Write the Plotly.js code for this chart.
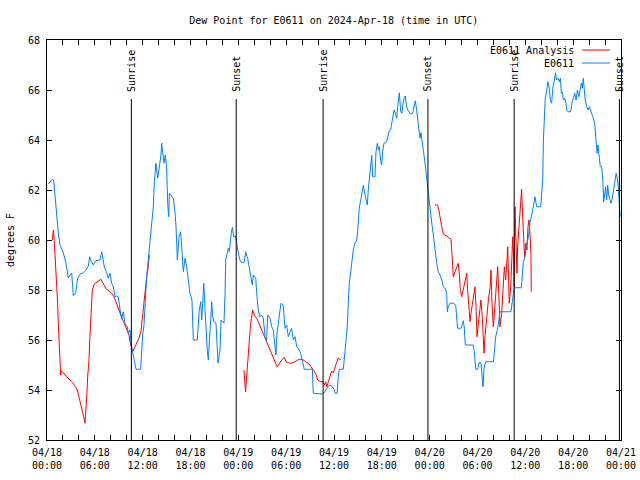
<!DOCTYPE html>
<html>
<head>
<meta charset="utf-8">
<script src="https://cdn.plot.ly/plotly-3.0.1.min.js"></script>
<style>html,body{margin:0;padding:0;background:#fff;}#chart{width:640px;height:480px;}</style>
</head>
<body>
<div id="chart"></div>
<script>
// Time base: 2024-04-18 00:00 UTC; times below are hours since then.
var startDate = "2024-04-18 00:00";

// E0611 observed dew point (blue)
var obsHours = [0.16,0.67,0.84,1.0,1.2,1.42,1.63,2.05,2.38,2.67,2.97,3.1,3.3,3.6,3.85,4.18,4.55,4.85,5.18,5.35,5.52,5.81,6.1,6.65,6.86,7.07,7.19,7.49,7.69,7.9,8.11,8.32,8.53,8.74,8.95,9.16,9.37,9.57,9.78,10.07,10.2,10.41,10.54,10.7,10.95,11.16,11.75,11.83,12.0,12.17,12.3,12.5,12.7,12.92,13.13,13.33,13.46,13.67,13.89,14.09,14.3,14.39,14.51,14.68,14.84,15.0,15.15,15.27,15.35,15.65,15.85,16.06,16.19,16.35,16.56,16.77,16.9,17.1,17.31,17.52,17.73,17.94,18.19,18.27,18.35,18.85,18.98,19.1,19.28,19.4,19.53,19.66,19.78,19.95,20.1,20.24,20.37,20.53,20.66,20.78,20.95,21.2,21.37,21.45,21.58,21.7,21.83,22.05,22.2,22.33,22.41,22.62,22.75,22.87,22.96,23.12,23.25,23.42,23.67,23.8,23.92,24.2,24.42,24.75,24.92,25.17,25.34,25.59,25.75,25.88,26.18,26.34,26.5,26.72,26.93,27.13,27.35,27.55,27.68,27.97,28.18,28.39,28.6,28.72,28.85,29.1,29.35,29.64,29.85,30.06,30.27,30.48,30.69,30.9,31.11,31.32,31.52,31.82,32.07,32.27,33.28,33.4,34.53,34.87,35.2,35.5,35.7,36.0,36.13,36.4,36.54,36.67,37.17,37.34,37.5,37.67,37.8,37.92,38.1,38.22,38.42,38.63,38.85,38.97,39.05,39.17,39.35,39.51,39.68,39.85,40.01,40.18,40.3,40.43,40.6,40.73,40.85,41.14,41.27,41.43,41.56,41.68,41.86,41.98,42.1,42.27,42.6,42.8,42.94,43.1,43.24,43.36,43.53,43.69,43.86,43.98,44.13,44.2,44.37,44.53,44.62,44.78,44.95,45.07,45.25,45.45,45.62,45.87,46.04,46.2,46.37,46.54,46.66,46.79,46.91,47.04,47.2,47.42,47.63,47.8,48.04,48.26,48.46,48.67,48.88,49.09,49.3,49.51,49.72,49.93,50.14,50.21,50.34,50.55,50.97,51.26,51.39,51.5,51.93,52.09,52.23,52.35,52.47,53.47,53.6,53.78,54.03,54.19,54.44,54.6,54.7,54.82,55.03,56.0,56.11,56.28,56.53,56.7,56.82,58.2,58.37,58.5,58.6,59.5,59.6,59.74,59.96,60.08,60.25,60.42,60.59,60.75,60.92,61.09,61.2,61.43,61.93,62.05,62.18,62.27,62.38,62.5,62.68,62.84,63.0,63.14,63.3,63.47,63.65,63.78,63.9,64.1,64.27,64.4,64.52,64.65,64.77,64.94,65.1,65.19,65.35,65.7,65.86,66.03,66.2,66.36,66.53,66.7,66.86,67.03,67.15,67.27,67.4,67.52,67.7,67.86,68.03,68.2,68.36,68.53,68.7,68.87,69.0,69.11,69.24,69.4,69.57,69.7,69.83,69.95,70.07,70.2,70.33,70.45,70.63,70.75,70.91,71.03,71.2,71.4,71.5,71.67,71.79,71.9];
var obsDewF = [62.24,62.43,62.4,61.6,61.08,60.28,59.8,59.48,59.08,58.48,58.6,58.68,57.77,57.89,58.48,58.64,58.69,58.77,58.96,59.33,59.17,59.0,59.17,59.2,59.53,59.2,58.93,58.69,58.47,58.67,58.27,58.13,57.73,57.76,57.7,57.2,56.83,57.13,56.67,56.53,56.27,56.4,55.87,55.6,55.2,54.83,54.83,55.33,56.2,56.6,57.47,58.53,59.2,59.87,60.53,61.33,62.33,63.07,62.47,62.87,63.4,63.87,63.47,63.07,63.4,62.93,61.4,60.93,61.87,61.73,61.67,61.07,60.53,59.2,60.13,60.33,59.73,58.73,59.27,58.93,58.4,57.87,57.6,56.8,56.0,56.0,56.67,57.2,57.53,56.8,57.47,58.27,57.47,56.4,55.6,55.2,55.87,56.67,57.53,56.93,56.73,56.67,55.87,55.07,55.33,55.6,56.8,56.73,56.67,57.87,59.2,59.47,59.67,59.53,59.93,60.27,60.51,60.13,60.16,59.8,59.6,59.2,59.09,59.13,59.53,59.27,58.93,58.4,58.2,58.6,58.47,57.73,57.2,56.93,57.0,56.87,56.13,56.0,57.0,56.87,56.53,56.4,55.73,55.4,56.27,56.93,57.47,57.4,56.47,56.6,56.13,56.33,56.47,56.0,56.13,55.73,55.67,55.47,55.07,54.83,54.83,53.87,53.84,53.93,54.13,54.2,54.16,54.03,53.87,53.87,54.53,54.83,54.83,55.47,56.0,56.53,57.53,58.27,58.73,59.07,59.6,59.87,60.0,60.33,60.8,61.27,61.6,62.0,62.2,61.87,61.67,61.4,62.0,62.53,63.13,63.4,62.53,62.53,63.53,63.87,63.6,63.73,63.13,63.0,63.53,63.87,63.93,64.2,64.37,64.4,64.67,64.93,65.2,65.07,64.87,65.33,65.6,65.89,65.13,65.07,65.4,65.67,65.76,65.4,65.2,65.13,65.04,65.07,65.33,65.57,65.2,64.8,64.33,64.07,64.29,64.07,63.6,63.07,62.4,61.87,61.2,60.67,60.2,59.6,59.07,58.73,58.6,58.4,58.13,58.07,57.87,57.13,57.33,57.47,57.47,57.4,56.73,56.47,56.47,56.67,56.77,56.47,55.8,55.8,55.53,54.83,54.83,55.09,55.09,54.47,54.13,54.87,55.13,55.13,55.73,56.13,56.47,56.8,57.13,57.13,57.6,57.87,58.09,58.09,58.67,59.07,59.33,59.73,59.93,60.2,60.67,60.93,61.07,61.47,61.73,61.33,61.33,61.93,62.47,64.0,64.73,65.67,66.0,66.33,66.07,65.6,65.47,66.13,66.4,66.69,66.4,66.47,66.33,66.47,65.87,65.93,65.6,65.67,65.47,65.2,65.13,65.13,65.53,65.73,65.87,65.6,66.0,65.73,66.07,66.27,66.07,66.47,66.0,65.6,65.33,65.2,65.33,65.2,65.0,64.87,64.67,64.0,63.47,63.8,63.53,62.93,62.93,62.47,61.53,61.87,62.13,61.6,62.2,61.8,61.6,61.47,61.67,62.0,62.27,62.67,62.53,62.13,61.6,60.93];

// E0611 Analysis dew point (red); null = gap in analysis
var anaHours = [0.67,0.8,0.92,1.09,1.22,1.34,1.42,1.55,1.63,1.72,1.76,2.26,2.68,3.1,3.51,3.8,4.05,4.35,4.55,4.77,4.85,4.98,5.1,5.27,5.39,5.52,5.68,5.93,6.23,6.52,6.77,6.94,7.15,7.36,7.61,7.9,8.11,8.4,8.62,8.87,9.16,9.45,9.7,9.91,10.12,10.28,10.45,10.62,10.75,10.95,11.25,11.54,11.79,11.95,12.12,12.3,12.5,12.7,12.83,
  18.0,
  24.7,24.8,24.92,25.0,25.13,25.25,25.38,25.55,25.68,25.8,26.0,26.3,26.59,26.84,27.13,27.43,27.76,28.1,28.43,28.72,28.89,29.14,29.44,29.77,29.98,30.27,30.69,31.11,31.45,31.78,32.15,32.45,32.78,33.12,33.4,33.7,33.95,34.28,34.62,34.78,34.95,35.12,35.28,35.5,35.7,35.91,36.1,36.3,36.54,36.88,
  42.0,
  48.67,49.0,49.15,49.3,49.51,49.72,50.01,50.34,50.68,50.76,50.84,50.97,51.18,51.39,51.59,51.72,51.84,52.02,52.23,52.43,52.65,52.77,52.9,53.06,53.18,53.35,53.52,53.69,53.81,53.94,54.06,54.19,54.31,54.44,54.6,54.7,54.82,54.94,55.16,55.36,55.58,55.7,55.82,55.98,56.11,56.28,56.4,56.53,56.7,56.82,57.03,57.23,57.36,57.53,57.67,57.8,57.87,57.99,58.16,58.29,58.41,58.54,58.6,58.7,58.78,58.85,58.95,59.03,59.16,59.28,59.4,59.54,59.62,59.78,59.9,60.07,60.2,60.33,60.45,60.58,60.7,60.75];
var anaDewF = [60.0,60.4,59.93,59.07,58.27,57.47,56.67,55.87,55.07,54.6,54.77,54.6,54.47,54.33,54.16,54.0,53.67,53.33,53.0,52.67,53.0,53.73,54.53,55.2,56.13,57.33,58.0,58.24,58.29,58.37,58.43,58.33,58.2,58.07,58.0,57.93,57.87,57.73,57.53,57.33,57.07,56.83,56.67,56.51,56.33,56.2,55.87,55.67,55.53,55.67,55.87,56.07,56.33,56.87,57.33,57.73,58.53,58.93,59.4,
  null,
  54.8,54.13,53.93,54.33,55.07,55.6,56.0,56.67,57.07,57.2,57.0,56.87,56.67,56.47,56.27,56.0,55.73,55.47,55.23,55.04,54.93,55.07,55.2,55.31,55.13,55.09,55.07,55.13,55.2,55.23,55.2,55.13,55.07,54.93,54.8,54.67,54.4,54.33,54.33,54.2,54.33,54.13,54.33,54.53,54.75,54.69,54.93,55.07,55.27,55.2,
  null,
  61.4,61.4,61.2,60.87,60.53,60.24,60.16,60.11,60.03,59.6,58.93,58.53,58.73,58.93,59.07,58.67,58.07,57.73,58.07,58.33,58.67,58.0,57.33,56.73,57.07,57.47,57.8,58.13,57.33,56.13,56.53,56.93,57.33,57.6,56.93,56.4,55.47,56.13,57.0,57.6,58.13,58.8,57.47,56.53,57.07,57.87,58.4,58.93,57.6,56.53,57.07,58.13,58.93,58.4,59.33,59.73,58.8,57.47,58.13,59.2,60.13,59.33,58.13,61.33,60.53,59.33,58.67,59.73,60.4,60.8,61.47,62.03,61.33,59.87,59.33,59.87,59.6,60.53,60.8,60.27,59.47,57.93];

// Sun events (UTC)
var sunTimes = ["2024-04-18 10:35","2024-04-18 23:44","2024-04-19 10:38","2024-04-19 23:47","2024-04-20 10:36","2024-04-20 23:48"];
var sunLabels = ["Sunrise","Sunset","Sunrise","Sunset","Sunrise","Sunset"];

// Axis ticks
var tickHours = [];
for (var h = 0; h <= 72; h += 2) tickHours.push(h);
var yTicks = [52,54,56,58,60,62,64,66,68];

var baseMs = Date.UTC(2024, 3, 18, 0, 0, 0);
function pad(n){ return (n < 10 ? "0" : "") + n; }
function hoursToDate(h){
  if (h === null) return null;
  var d = new Date(baseMs + Math.round(h * 60) * 60000);
  return d.getUTCFullYear() + "-" + pad(d.getUTCMonth()+1) + "-" + pad(d.getUTCDate()) + " " + pad(d.getUTCHours()) + ":" + pad(d.getUTCMinutes()) + ":00";
}
function tickLabel(h){
  if (h % 6 !== 0) return "";
  var d = new Date(baseMs + h * 3600000);
  return pad(d.getUTCMonth()+1) + "/" + pad(d.getUTCDate()) + "<br>" + pad(d.getUTCHours()) + ":" + pad(d.getUTCMinutes());
}

var mono = "DejaVu Sans Mono, monospace";
var RED = "#ff0000", BLUE = "#0080ff";

var traces = [
  {x: anaHours.map(hoursToDate), y: anaDewF, type: "scatter", mode: "lines", name: "E0611 Analysis",
   line: {color: RED, width: 1}, connectgaps: false, hoverinfo: "x+y"},
  {x: obsHours.map(hoursToDate), y: obsDewF, type: "scatter", mode: "lines", name: "E0611",
   line: {color: BLUE, width: 1}, hoverinfo: "x+y"}
];

var shapes = [], annotations = [];
sunTimes.forEach(function(t, i){
  shapes.push({type: "line", xref: "x", yref: "paper", x0: t, x1: t, y0: 0, y1: 0.8525,
               line: {color: "#000", width: 1}});
  annotations.push({xref: "x", yref: "paper", x: t, y: 0.866, text: sunLabels[i], textangle: -90,
                    showarrow: false, xanchor: "center", yanchor: "bottom",
                    font: {family: mono, size: 10, color: "#000"}});
});
// gnuplot-style legend: text, then line sample
var legendNames = [traces[0].name, traces[1].name];
var legendColors = [RED, BLUE];
var legendY = [0.975, 0.9425];
legendNames.forEach(function(n, i){
  annotations.push({xref: "paper", yref: "paper", x: 0.921, y: legendY[i], text: n, showarrow: false,
                    xanchor: "right", yanchor: "middle", font: {family: mono, size: 10, color: "#000"}});
  shapes.push({type: "line", xref: "paper", yref: "paper", x0: 0.932, x1: 0.981, y0: legendY[i], y1: legendY[i],
               line: {color: legendColors[i], width: 1}});
});

var layout = {
  width: 640, height: 480,
  margin: {l: 47, r: 19, t: 40, b: 40, pad: 0},
  paper_bgcolor: "#fff", plot_bgcolor: "#fff",
  font: {family: mono, size: 10, color: "#000"},
  showlegend: false,
  title: {text: "Dew Point for E0611 on 2024-Apr-18 (time in UTC)", x: 0.5215, xanchor: "center",
          y: 0.958, yanchor: "middle", font: {family: mono, size: 10, color: "#000"}},
  xaxis: {type: "date", range: [hoursToDate(0), hoursToDate(72)],
          tickmode: "array", tickvals: tickHours.map(hoursToDate), ticktext: tickHours.map(tickLabel),
          ticks: "inside", ticklen: 5, tickcolor: "#000", tickwidth: 1, ticklabelstandoff: 3,
          showline: true, linecolor: "#000", linewidth: 1, mirror: "ticks",
          showgrid: false, zeroline: false, tickfont: {family: mono, size: 10, color: "#000"}},
  yaxis: {range: [52, 68], tickmode: "array", tickvals: yTicks, ticktext: yTicks.map(String),
          ticks: "inside", ticklen: 5, tickcolor: "#000", tickwidth: 1, ticklabelstandoff: 4,
          showline: true, linecolor: "#000", linewidth: 1, mirror: "ticks",
          showgrid: false, zeroline: false, tickfont: {family: mono, size: 10, color: "#000"},
          title: {text: "degrees F", font: {family: mono, size: 10, color: "#000"}, standoff: 11}},
  shapes: shapes,
  annotations: annotations
};

Plotly.newPlot("chart", traces, layout, {displayModeBar: false, staticPlot: true});
</script>
</body>
</html>
